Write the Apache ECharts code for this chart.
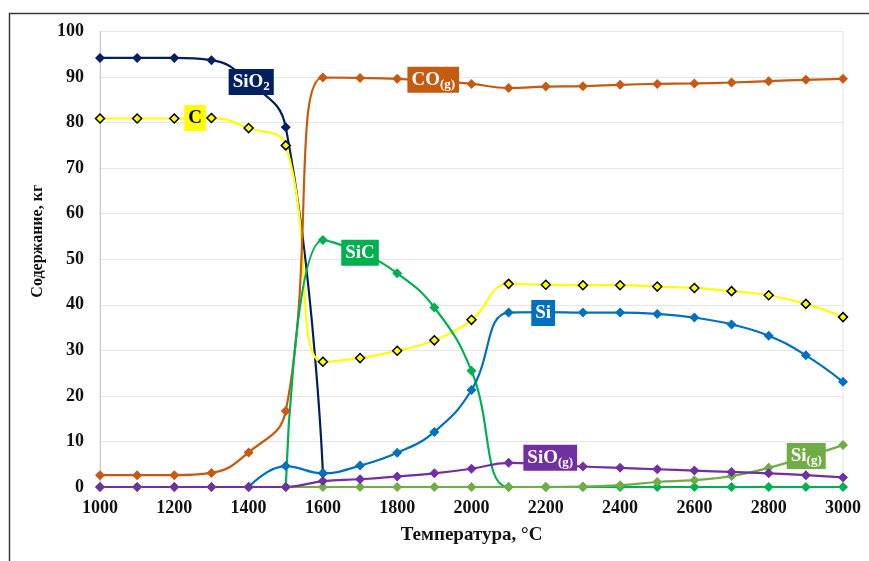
<!DOCTYPE html>
<html>
<head>
<meta charset="utf-8">
<script src="https://cdn.jsdelivr.net/npm/echarts@6/dist/echarts.min.js"></script>
<style>html,body{margin:0;padding:0;background:#fff;}#c{width:869px;height:561px;}</style>
</head>
<body>
<div id="c"></div>
<script>
// Temperatures, °C
var temps = [1000, 1100, 1200, 1300, 1400, 1500, 1600, 1700, 1800, 1900, 2000, 2100, 2200, 2300, 2400, 2500, 2600, 2700, 2800, 2900, 3000];
// Content, kg
var sio2 = [94.2, 94.2, 94.2, 93.7, 89, 79, 3, null, null, null, null, null, null, null, null, null, null, null, null, null, null];
var carbon = [80.9, 80.9, 80.9, 81, 78.8, 75, 27.5, 28.3, 29.9, 32.2, 36.7, 44.6, 44.4, 44.3, 44.3, 44.0, 43.7, 43.0, 42.1, 40.2, 37.3];
var co = [2.6, 2.6, 2.6, 3.1, 7.6, 16.7, 89.9, 89.8, 89.6, 89.2, 88.5, 87.6, 87.9, 88.0, 88.3, 88.5, 88.6, 88.8, 89.1, 89.4, 89.6];
var sic = [null, null, null, null, null, 0, 54.2, 51.5, 46.9, 39.4, 25.5, 0, 0, 0, 0, 0, 0, 0, 0, 0, 0];
var si = [null, null, null, null, 0, 4.6, 3.0, 4.7, 7.5, 12.1, 21.3, 38.3, 38.4, 38.3, 38.3, 38.0, 37.2, 35.7, 33.2, 28.9, 23.1];
var sig = [0, 0, 0, 0, 0, 0, 0, 0, 0, 0, 0, 0, 0, 0.1, 0.4, 1.1, 1.5, 2.4, 4.2, 6.6, 9.2];
var siog = [0, 0, 0, 0, 0, 0, 1.3, 1.7, 2.3, 3.0, 4.0, 5.3, 5.0, 4.5, 4.2, 3.9, 3.6, 3.3, 3.0, 2.6, 2.1];
var xTicks = [1000, 1200, 1400, 1600, 1800, 2000, 2200, 2400, 2600, 2800, 3000];
var yTicks = [0, 10, 20, 30, 40, 50, 60, 70, 80, 90, 100];

function pairs(vals) {
  return temps.map(function (t, i) { return [t, vals[i]]; });
}

var serif = '"Liberation Serif", "Times New Roman", serif';

function tag(text, coord, bg, fg) {
  return {
    coord: coord,
    symbol: 'rect',
    symbolSize: 0,
    label: {
      show: true,
      position: 'inside',
      formatter: text,
      backgroundColor: bg,
      color: fg,
      padding: [3, 4, 2, 4],
      rich: {
        m: { fontFamily: serif, fontWeight: 'bold', fontSize: 19, lineHeight: 21, color: fg },
        s: { fontFamily: serif, fontWeight: 'bold', fontSize: 13, lineHeight: 13, padding: [9, 0, 0, 0], verticalAlign: 'bottom', color: fg }
      }
    }
  };
}

function line(name, vals, color, tagItem, extra) {
  var s = {
    name: name,
    type: 'line',
    data: pairs(vals),
    smooth: 0.45,
    symbol: 'diamond',
    symbolSize: 10,
    connectNulls: false,
    lineStyle: { color: color, width: 2.2 },
    itemStyle: { color: color },
    markPoint: { silent: true, data: [tagItem], animation: false }
  };
  if (extra) { for (var k in extra) s[k] = extra[k]; }
  return s;
}

var chart = echarts.init(document.getElementById('c'), null, { renderer: 'canvas' });
chart.setOption({
  animation: false,
  backgroundColor: '#ffffff',
  graphic: [{
    type: 'rect',
    shape: { x: 9.5, y: 13.5, width: 1000, height: 1000 },
    style: { fill: 'none', stroke: '#3a3a3a', lineWidth: 1.5 },
    silent: true, z: 0
  }],
  grid: { left: 100, right: 26, top: 31.5, bottom: 74, show: true, borderColor: '#e3e3e3', borderWidth: 1, backgroundColor: 'transparent' },
  xAxis: {
    type: 'value', min: 1000, max: 3000, interval: 200,
    name: 'Температура, °C', nameLocation: 'middle', nameGap: 39,
    nameTextStyle: { fontFamily: serif, fontWeight: 'bold', fontSize: 19, color: '#111' },
    axisLine: { show: true, lineStyle: { color: '#d0d0d0' } },
    axisTick: { show: false },
    splitLine: { show: false },
    axisLabel: {
      margin: 12, fontFamily: serif, fontWeight: 'bold', fontSize: 18, color: '#111',
      formatter: function (v) { return xTicks.indexOf(v) >= 0 ? String(v) : ''; }
    }
  },
  yAxis: {
    type: 'value', min: 0, max: 100, interval: 10,
    name: 'Содержание, кг', nameLocation: 'middle', nameGap: 51, nameRotate: 90,
    nameTextStyle: { fontFamily: serif, fontWeight: 'bold', fontSize: 16, color: '#111', padding: [0, 0, 0, 36] },
    axisLine: { show: true, lineStyle: { color: '#c8c8c8' } },
    axisTick: { show: false },
    splitLine: { show: true, lineStyle: { color: '#e6e6e6', width: 1 } },
    axisLabel: {
      margin: 16, fontFamily: serif, fontWeight: 'bold', fontSize: 18, color: '#111',
      formatter: function (v) { return yTicks.indexOf(v) >= 0 ? String(v) : ''; }
    }
  },
  series: [
    line('SiO2', sio2, '#002060', tag('{m|SiO}{s|2}', [1407, 88.9], '#002060', '#ffffff')),
    line('C', carbon, '#FFFF00', tag('{m|C}', [1256, 81], '#FFFF00', '#000000'), {
      itemStyle: { color: '#FFFF00', borderColor: '#000000', borderWidth: 1.5 },
      symbolSize: 9
    }),
    line('CO(g)', co, '#C55A11', tag('{m|CO}{s|(g)}', [1897, 89.4], '#C55A11', '#ffffff')),
    line('SiC', sic, '#00B050', tag('{m|SiC}', [1700, 51.4], '#00B050', '#ffffff')),
    line('Si', si, '#0070C0', tag('{m|Si}', [2193, 38.2], '#0070C0', '#ffffff')),
    line('Si(g)', sig, '#70AD47', tag('{m|Si}{s|(g)}', [2901, 6.8], '#70AD47', '#ffffff')),
    line('SiO(g)', siog, '#7030A0', tag('{m|SiO}{s|(g)}', [2212, 6.4], '#7030A0', '#ffffff'))
  ]
});
</script>
</body>
</html>
